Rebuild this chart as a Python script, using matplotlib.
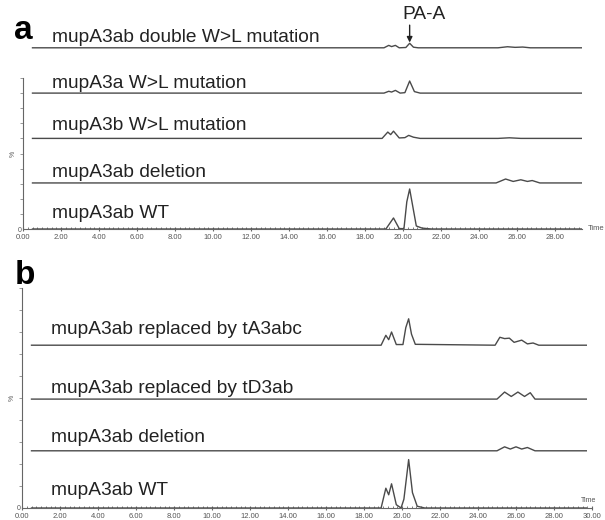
import matplotlib
matplotlib.use("Agg")
import matplotlib.pyplot as plt
from matplotlib.ticker import MultipleLocator, FixedLocator

plt.rcParams["font.family"] = ["Liberation Sans", "DejaVu Sans"]

LINE = "#4a4a4a"

# ---- panel a: stacked chromatograms (time [min], intensity [%]) ----
a_labels = ["mupA3ab double W>L mutation", "mupA3a W>L mutation",
            "mupA3b W>L mutation", "mupA3ab deletion", "mupA3ab WT"]
a_offsets = [120, 90, 60, 30.5, 0]
a_text_dy = [4, 3.3, 5.3, 4, 7.3]

a_t_double = [0.5, 19.0, 19.25, 19.4, 19.6, 19.8, 20.15, 20.35, 20.55, 20.8, 25.0, 25.5, 25.9, 26.3, 26.7, 29.4]
a_y_double = [0, 0, 1.6, 0.8, 1.6, 0, 0.2, 3.0, 0.4, 0, 0, 0.7, 0.3, 0.5, 0, 0]
a_t_a = [0.5, 19.0, 19.25, 19.4, 19.6, 19.85, 20.1, 20.35, 20.6, 20.9, 29.4]
a_y_a = [0, 0, 1.2, 0.7, 1.8, 0, 0.3, 8.0, 1.0, 0, 0]
a_t_b = [0.5, 18.9, 19.2, 19.35, 19.5, 19.8, 20.1, 20.3, 20.55, 20.9, 25.0, 25.6, 26.2, 29.4]
a_y_b = [0, 0, 4.2, 2.5, 4.8, 0.3, 0.5, 2.0, 0.8, 0, 0, 0.4, 0, 0]
a_t_del = [0.5, 24.9, 25.4, 25.8, 26.2, 26.55, 26.8, 27.2, 29.4]
a_y_del = [0, 0, 2.6, 1.0, 2.1, 1.0, 1.6, 0, 0]
a_t_wt = [0.5, 19.1, 19.5, 19.8, 20.05, 20.2, 20.35, 20.5, 20.7, 21.0, 21.5, 29.4]
a_y_wt = [0, 0, 7.3, 0.3, 0.2, 18.0, 26.5, 16.0, 2.0, 0.6, 0, 0]

a_times = [a_t_double, a_t_a, a_t_b, a_t_del, a_t_wt]
a_values = [a_y_double, a_y_a, a_y_b, a_y_del, a_y_wt]

# ---- panel b ----
b_labels = ["mupA3ab replaced by tA3abc", "mupA3ab replaced by tD3ab",
            "mupA3ab deletion", "mupA3ab WT"]
b_offsets = [74, 49.5, 26, 0]
b_text_dy = [5, 2.8, 4.1, 5.9]

b_t_abc = [0.5, 18.9, 19.15, 19.3, 19.45, 19.7, 20.05, 20.2, 20.35, 20.5, 20.7, 24.9, 25.15, 25.4, 25.65, 25.9, 26.3, 26.6, 26.9, 27.2, 29.7]
b_y_abc = [0, 0, 4.5, 2.5, 6.0, 0.3, 0.3, 8.0, 12.0, 5.0, 0.4, 0, 3.6, 3.0, 3.2, 1.3, 2.3, 0.6, 1.0, 0, 0]
b_t_d3 = [0.5, 25.0, 25.4, 25.75, 26.1, 26.45, 26.75, 27.0, 29.7]
b_y_d3 = [0, 0, 3.2, 1.2, 3.2, 1.2, 2.9, 0, 0]
b_t_del = [0.5, 25.0, 25.4, 25.7, 26.0, 26.3, 26.6, 27.0, 29.7]
b_y_del = [0, 0, 1.8, 0.8, 1.8, 0.8, 1.5, 0, 0]
b_t_wt = [0.5, 18.9, 19.15, 19.3, 19.45, 19.7, 19.95, 20.1, 20.35, 20.55, 20.8, 21.2, 29.7]
b_y_wt = [0, 0, 9.0, 6.0, 11.0, 1.5, 0, 4.0, 22.0, 7.0, 0.8, 0, 0]

b_times = [b_t_abc, b_t_d3, b_t_del, b_t_wt]
b_values = [b_y_abc, b_y_d3, b_y_del, b_y_wt]

LABEL_SIZE = 13.8

W, H = 605, 520
fig = plt.figure(figsize=(W / 100, H / 100), dpi=100)


def px_axes(x0, x1, y_top, y_bot):
    return fig.add_axes([x0 / W, 1 - y_bot / H, (x1 - x0) / W, (y_bot - y_top) / H])


def style(ax, xmax, ticks_max, spine_top):
    for s in ("top", "right"):
        ax.spines[s].set_visible(False)
    for s in ("left", "bottom"):
        ax.spines[s].set_color("#666666")
        ax.spines[s].set_linewidth(0.8)
    ax.spines["left"].set_bounds(0, spine_top)
    ax.set_xlim(0, xmax)
    ax.set_xticks([i for i in range(0, ticks_max + 1, 2)])
    ax.set_xticklabels([f"{i:.2f}" for i in range(0, ticks_max + 1, 2)])
    ax.xaxis.set_minor_locator(MultipleLocator(0.25))
    ax.tick_params(axis="x", which="major", length=3, direction="inout",
                   labelsize=5.5, labelcolor="#555555", color="#666666", pad=2)
    ax.tick_params(axis="x", which="minor", length=1.5, direction="in", color="#666666")
    ax.set_yticks([0])
    ax.set_yticklabels(["0"])
    ax.yaxis.set_minor_locator(FixedLocator(list(range(10, spine_top + 1, 10))))
    ax.tick_params(axis="y", which="major", length=0, labelsize=5, labelcolor="#555555", pad=1)
    ax.tick_params(axis="y", which="minor", length=2, direction="out", color="#888888")


# panel a: x=0 at px 23, 19 px per minute, 0..100% spans px 229..78
axa = px_axes(23, 23 + 29.4 * 19, 229 - 130 * 1.51, 229)
axa.set_ylim(0, 130)
style(axa, 29.4, 28, 100)
for lab, off, dy, t, v in zip(a_labels, a_offsets, a_text_dy, a_times, a_values):
    axa.plot(t, [off + y for y in v], color=LINE, lw=1.0)
    axa.text(1.55, off + dy, lab, fontsize=LABEL_SIZE, color="#222222", va="baseline")
axa.text(29.7, 0, "Time", fontsize=5.5, color="#555555", va="center", ha="left", clip_on=False)
axa.text(-0.35, 50, "%", fontsize=5, color="#555555", rotation=90, ha="right", va="center")
axa.text(19.95, 136.5, "PA-A", fontsize=LABEL_SIZE, color="#222222", ha="left", va="bottom",
         clip_on=False)
axa.annotate("", xy=(20.35, 123.5), xytext=(20.35, 135), annotation_clip=False,
             arrowprops=dict(arrowstyle="-|>", color="#222222", lw=1.0, mutation_scale=8,
                             shrinkA=0, shrinkB=0))

# panel b: x=0 at px 22, 30 at px 592; 0..100% spans px 508..288
axb = px_axes(22, 592, 288, 508)
axb.set_ylim(0, 100)
style(axb, 30, 30, 100)
for lab, off, dy, t, v in zip(b_labels, b_offsets, b_text_dy, b_times, b_values):
    axb.plot(t, [off + y for y in v], color=LINE, lw=1.0)
    axb.text(1.55, off + dy, lab, fontsize=LABEL_SIZE, color="#222222", va="baseline")
axb.text(30.2, 2, "Time", fontsize=5, color="#555555", va="bottom", ha="right", clip_on=False)
axb.text(-0.35, 50, "%", fontsize=5, color="#555555", rotation=90, ha="right", va="center")

fig.text(14 / W, 1 - 39 / H, "a", fontsize=24, fontweight="bold", va="baseline")
fig.text(15 / W, 1 - 284 / H, "b", fontsize=24, fontweight="bold", va="baseline")

fig.savefig("out.png", dpi=100, facecolor="white")
